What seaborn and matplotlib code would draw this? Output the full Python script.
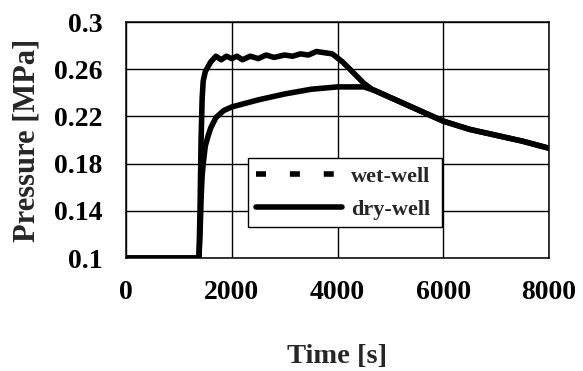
import seaborn as sns
from matplotlib import pyplot as plt
from matplotlib.lines import Line2D
import pandas as pd

# values
wet_time = [0, 1380, 1400, 1420, 1440, 1460, 1500, 1550, 1600, 1700, 1850, 2000,
            2500, 3000, 3500, 4000, 4500, 4700, 5000, 5500, 6000, 6500, 7000, 7500, 8000]
wet_pressure = [0.1, 0.1, 0.12, 0.15, 0.17, 0.18, 0.195, 0.203, 0.21, 0.219, 0.225, 0.228,
                0.234, 0.239, 0.243, 0.245, 0.245, 0.242, 0.236, 0.226, 0.216, 0.209, 0.204, 0.199, 0.193]

dry_time = [0, 1380, 1400, 1420, 1440, 1460, 1500, 1550, 1600, 1700, 1800, 1900, 2000, 2100, 2200,
            2350, 2500, 2650, 2800, 3000, 3150, 3300, 3450, 3600, 3750, 3900, 4100, 4300, 4500,
            4650, 5000, 5200, 5500, 6000, 6500, 7000, 7500, 8000]
dry_pressure = [0.1, 0.1, 0.14, 0.2, 0.235, 0.25, 0.258, 0.262, 0.266, 0.271, 0.268, 0.271, 0.269,
                0.271, 0.268, 0.271, 0.269, 0.272, 0.270, 0.272, 0.271, 0.273, 0.272, 0.275, 0.274,
                0.273, 0.266, 0.257, 0.248, 0.243, 0.236, 0.232, 0.226, 0.216, 0.209, 0.204, 0.199, 0.193]

x_ticks = [0, 2000, 4000, 6000, 8000]
y_ticks = [0.1, 0.14, 0.18, 0.22, 0.26, 0.3]
y_tick_labels = ["0.1", "0.14", "0.18", "0.22", "0.26", "0.3"]

sns.set_theme(style="white")
plt.rcParams['font.family'] = ['Liberation Serif', 'DejaVu Serif']
plt.rcParams['font.weight'] = 'bold'

wet = pd.DataFrame({'time': wet_time, 'pressure': wet_pressure})
dry = pd.DataFrame({'time': dry_time, 'pressure': dry_pressure})

fig = plt.figure(figsize=(5.83, 3.71), dpi=100)
ax = fig.add_axes([126 / 583, 1 - 258 / 371, 423 / 583, 236 / 371])

LW = 4.0
sns.lineplot(data=wet, x='time', y='pressure', color='black', linewidth=LW, ax=ax)
sns.lineplot(data=dry, x='time', y='pressure', color='black', linewidth=LW, ax=ax)

ax.set_xlim(0, 8000)
ax.set_ylim(0.1, 0.3)
ax.set_xticks(x_ticks)
ax.set_yticks(y_ticks)
ax.set_yticklabels(y_tick_labels)
ax.grid(True, color='black', linewidth=1.0)
for s in ax.spines.values():
    s.set_color('black')
    s.set_linewidth(1.1)
ax.tick_params(axis='both', direction='out', length=6, width=1, colors='black',
               labelsize=20)
ax.tick_params(axis='y', pad=11)
ax.tick_params(axis='x', pad=10)
for lab in ax.get_xticklabels() + ax.get_yticklabels():
    lab.set_fontweight('bold')

ax.set_xlabel('Time [s]', fontsize=20.5, fontweight='bold', labelpad=28)
ax.set_ylabel('Pressure [MPa]', fontsize=22, fontweight='bold', labelpad=9)

handles = [Line2D([], [], color='black', linewidth=LW, linestyle=(0, (1.8, 4.3))),
           Line2D([], [], color='black', linewidth=LW)]
leg = ax.legend(handles, ['wet-well', 'dry-well'], loc='lower left',
                bbox_to_anchor=(0.288, 0.13, 0.459, 0.305), mode='expand',
                handlelength=3.9, frameon=True, fancybox=False,
                edgecolor='black', borderaxespad=0, labelspacing=0.55,
                handletextpad=0.4, borderpad=0.35, prop={'weight': 'bold', 'size': 16})
leg.get_frame().set_linewidth(1.0)
leg.get_frame().set_alpha(1)

fig.savefig('out.png', dpi=100)
